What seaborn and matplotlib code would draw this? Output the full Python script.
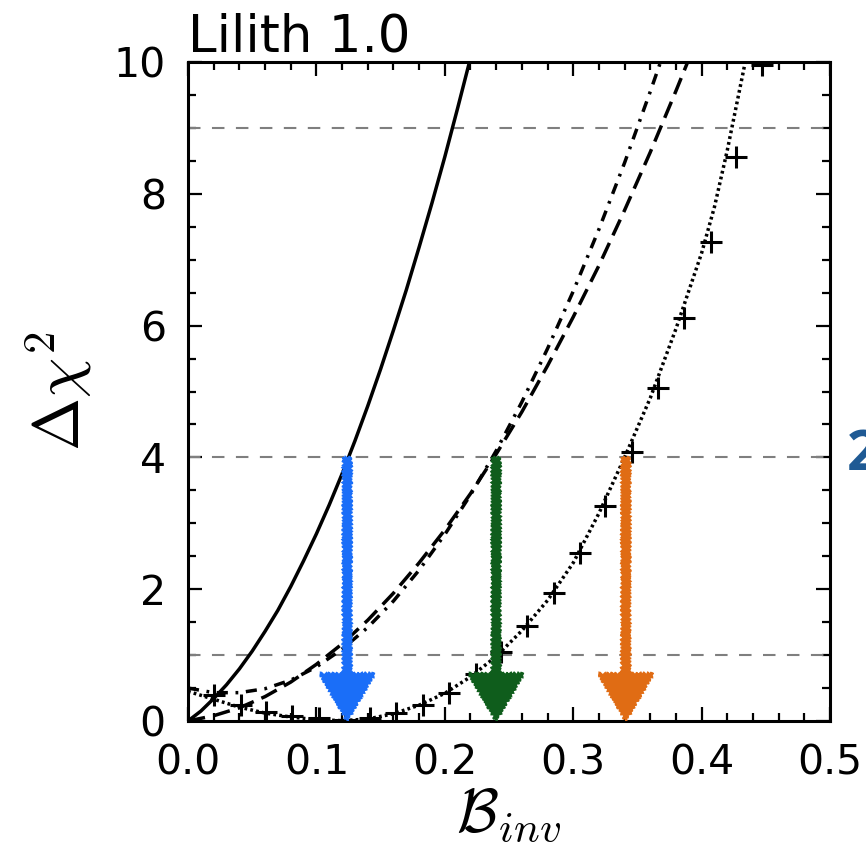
import numpy as np
import pandas as pd
import seaborn as sns
import matplotlib
matplotlib.use("Agg")
import matplotlib.pyplot as plt
from matplotlib.ticker import MultipleLocator

# ---------------- data ----------------
solid_x = [0.00, 0.01, 0.02, 0.03, 0.04, 0.05, 0.06, 0.07, 0.08, 0.09, 0.10, 0.11,
           0.12, 0.13, 0.14, 0.15, 0.16, 0.17, 0.18, 0.19, 0.20, 0.21, 0.22]
solid_y = [0.0, 0.15, 0.34, 0.55, 0.79, 1.06, 1.36, 1.68, 2.04, 2.43, 2.84, 3.28,
           3.75, 4.25, 4.78, 5.34, 5.93, 6.54, 7.19, 7.86, 8.56, 9.30, 10.06]

dashed_x = [0.00, 0.02, 0.04, 0.06, 0.08, 0.10, 0.12, 0.14, 0.16, 0.18, 0.20,
            0.22, 0.24, 0.26, 0.28, 0.30, 0.32, 0.34, 0.36, 0.38, 0.39]
dashed_y = [0.0, 0.08, 0.20, 0.37, 0.59, 0.86, 1.17, 1.53, 1.94, 2.40, 2.90,
            3.45, 4.05, 4.69, 5.39, 6.13, 6.91, 7.75, 8.63, 9.56, 10.04]

dashdot_x = [0.00, 0.02, 0.04, 0.06, 0.08, 0.10, 0.12, 0.14, 0.16, 0.18, 0.20,
             0.22, 0.24, 0.26, 0.28, 0.30, 0.32, 0.34, 0.36, 0.37]
dashdot_y = [0.50, 0.43, 0.43, 0.49, 0.62, 0.82, 1.09, 1.42, 1.82, 2.29, 2.83,
             3.43, 4.10, 4.84, 5.65, 6.52, 7.46, 8.47, 9.55, 10.11]

dotted_x = [0.00, 0.02, 0.04, 0.06, 0.08, 0.10, 0.12, 0.14, 0.16, 0.18, 0.20, 0.22,
            0.24, 0.26, 0.28, 0.30, 0.32, 0.34, 0.36, 0.38, 0.40, 0.41, 0.42, 0.434]
dotted_y = [0.45, 0.33, 0.21, 0.12, 0.06, 0.02, 0.005, 0.03, 0.11, 0.24, 0.42, 0.67,
            0.98, 1.37, 1.83, 2.40, 3.15, 4.00, 4.90, 5.95, 7.10, 7.80, 8.66, 10.0]

plus_x = [0.020, 0.041, 0.061, 0.081, 0.102, 0.122, 0.142, 0.162, 0.183, 0.203, 0.224,
          0.244, 0.264, 0.285, 0.305, 0.325, 0.346, 0.366, 0.386, 0.407, 0.427, 0.447]
plus_y = [0.40, 0.24, 0.13, 0.07, 0.04, 0.02, 0.04, 0.12, 0.25, 0.43, 0.72,
          1.04, 1.44, 1.94, 2.55, 3.27, 4.08, 5.05, 6.12, 7.27, 8.56, 9.96]

ref_levels = [1, 4, 9]
arrow_x = [0.124, 0.240, 0.341]
arrow_top = 4.0
arrow_colors = ["#1a6ef8", "#0f5d1c", "#e06c14"]

x_ticks = [0.0, 0.1, 0.2, 0.3, 0.4, 0.5]
y_ticks = [0, 2, 4, 6, 8, 10]

# ---------------- figure ----------------
sns.set_theme(style="white")
plt.rcParams["font.family"] = ["DejaVu Sans"]
plt.rcParams["mathtext.fontset"] = "cm"
for key in ["text.color", "axes.labelcolor", "xtick.color", "ytick.color", "axes.edgecolor"]:
    plt.rcParams[key] = "black"

fig = plt.figure(figsize=(8.66, 8.58), dpi=100)
ax = fig.add_axes([188 / 866, 1 - 721 / 858, (830 - 188) / 866, (721 - 62) / 858])

for lv in ref_levels:
    ax.axhline(lv, color="#7f7f7f", lw=1.5, ls=(0, (6, 5.5)), zorder=1)

lw = 2.5
sns.lineplot(x=solid_x, y=solid_y, ax=ax, color="black", lw=lw, sort=False, zorder=3)
sns.lineplot(x=dashed_x, y=dashed_y, ax=ax, color="black", lw=lw, sort=False, zorder=3)
ax.lines[-1].set_dashes([5, 2.4])
sns.lineplot(x=dashdot_x, y=dashdot_y, ax=ax, color="black", lw=lw, sort=False, zorder=3)
ax.lines[-1].set_dashes([3.2, 2.2, 0.8, 2.2])
sns.lineplot(x=dotted_x, y=dotted_y, ax=ax, color="black", lw=lw, sort=False, zorder=3)
ax.lines[-1].set_dashes([0.8, 0.9])

sns.scatterplot(x=plus_x, y=plus_y, ax=ax, marker="+", s=270, color="black",
                linewidth=2.2, zorder=4)

for xa, c in zip(arrow_x, arrow_colors):
    arr = ax.arrow(xa, arrow_top, 0, -arrow_top, width=0.0062, head_width=0.043,
                   head_length=0.72, length_includes_head=True, color=c,
                   lw=1.2, zorder=5)
    arr.set_sketch_params(scale=1.2, length=4, randomness=2)

ax.set_xlim(0, 0.5)
ax.set_ylim(0, 10)
ax.set_xticks(x_ticks)
ax.set_xticklabels([f"{v:.1f}" for v in x_ticks])
ax.set_yticks(y_ticks)
ax.set_yticklabels([str(v) for v in y_ticks])
ax.xaxis.set_minor_locator(MultipleLocator(0.02))
ax.yaxis.set_minor_locator(MultipleLocator(0.5))
ax.tick_params(which="both", direction="in", top=True, right=True, bottom=True, left=True,
               width=1.6, color="black")
ax.tick_params(which="major", length=10, labelsize=29.5, pad=16)
ax.tick_params(which="minor", length=5.5)
for s in ax.spines.values():
    s.set_visible(True)
    s.set_color("black")
    s.set_linewidth(2.2)

ax.set_xlabel(r"$\mathcal{B}_{inv}$", fontsize=44, labelpad=2)
ax.set_ylabel(r"$\Delta\chi^2$", fontsize=46, labelpad=14)
ax.set_title("Lilith 1.0", loc="left", fontsize=37, pad=7)

fig.text(847 / 866, 1 - 456 / 858, "2", color="#1f5a94", fontsize=40,
         fontweight="bold", family=["Open Sans", "DejaVu Sans"], va="center", ha="left")

fig.savefig("out.png", dpi=100)
